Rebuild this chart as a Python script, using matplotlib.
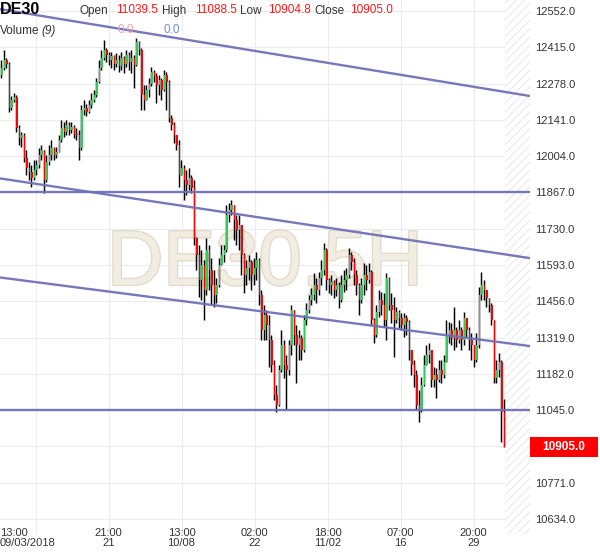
import matplotlib
matplotlib.use("Agg")
import matplotlib.pyplot as plt
import matplotlib.patheffects as pe
import matplotlib.transforms as mtrans
from matplotlib.patches import Rectangle
import numpy as np

plt.rcParams['font.family'] = ['Liberation Sans', 'DejaVu Sans']
plt.rcParams['hatch.linewidth'] = 0.6

# ---------------- data ----------------
symbol = "DE30"
watermark = "DE30,5H"
first_open = 12310

closes = [
    12337, 12367, 12352, 12186, 12216, 12227, 12110, 12073, 12084, 11997,
    11959, 11944, 11922, 11952, 11971, 12008, 12027, 11914, 11982, 12008,
    12035, 12008, 12020, 12065, 12110, 12095, 12122, 12103, 12114, 12088,
    12084, 12035, 12178, 12186, 12171, 12197, 12216, 12235, 12284, 12337,
    12375, 12405, 12386, 12367, 12382, 12352, 12367, 12344, 12375, 12352,
    12386, 12359, 12375, 12348, 12435, 12405, 12235, 12216, 12254, 12276,
    12322, 12307, 12273, 12292, 12254, 12310, 12284, 12148, 12122, 12084,
    12046, 11933, 11959, 11914, 11895, 11922, 11884, 11695, 11631, 11537,
    11593, 11499, 11650, 11574, 11518, 11480, 11518, 11593, 11631, 11650,
    11782, 11801, 11820, 11763, 11725, 11744, 11631, 11555, 11582, 11604,
    11555, 11582, 11612, 11480, 11348, 11404, 11367, 11310, 11216, 11102,
    11065, 11197, 11291, 11216, 11197, 11291, 11423, 11329, 11291, 11318,
    11272, 11386, 11423, 11461, 11480, 11518, 11499, 11544, 11574, 11650,
    11537, 11518, 11529, 11499, 11518, 11461, 11518, 11537, 11555, 11631,
    11604, 11555, 11518, 11461, 11518, 11555, 11537, 11567, 11386, 11329,
    11416, 11461, 11442, 11386, 11544, 11442, 11423, 11386, 11416, 11393,
    11367, 11393, 11378, 11272, 11216, 11178, 11065, 11046, 11140, 11216,
    11253, 11272, 11159, 11178, 11159, 11197, 11178, 11227, 11329, 11348,
    11318, 11348, 11310, 11348, 11310, 11393, 11348, 11310, 11291, 11235,
    11291, 11480, 11518, 11499, 11469, 11442, 11386, 11167, 11197, 11227,
    11039.5, 10905.0,
]
highs = [
    12367, 12405, 12375, 12359, 12231, 12242, 12235, 12122, 12095, 12090,
    12027, 11982, 11971, 11990, 11990, 12035, 12046, 12027, 12008, 12046,
    12065, 12040, 12039, 12084, 12141, 12133, 12141, 12133, 12133, 12122,
    12110, 12103, 12197, 12216, 12201, 12216, 12242, 12254, 12299, 12367,
    12405, 12442, 12412, 12397, 12397, 12386, 12393, 12386, 12397, 12382,
    12405, 12397, 12405, 12386, 12450, 12440, 12412, 12273, 12273, 12299,
    12341, 12329, 12318, 12310, 12299, 12329, 12322, 12292, 12159, 12133,
    12084, 12065, 11990, 11971, 11952, 11959, 11933, 11914, 11700, 11669,
    11650, 11612, 11695, 11669, 11620, 11574, 11544, 11620, 11669, 11669,
    11820, 11827, 11839, 11820, 11782, 11782, 11744, 11640, 11612, 11631,
    11612, 11620, 11642, 11620, 11499, 11442, 11423, 11404, 11329, 11235,
    11140, 11216, 11348, 11310, 11253, 11310, 11442, 11423, 11367, 11348,
    11329, 11404, 11450, 11480, 11506, 11563, 11544, 11567, 11612, 11676,
    11657, 11544, 11555, 11537, 11544, 11529, 11555, 11574, 11582, 11657,
    11642, 11620, 11574, 11525, 11544, 11601, 11593, 11601, 11574, 11393,
    11442, 11499, 11491, 11487, 11563, 11548, 11487, 11472, 11435, 11423,
    11412, 11412, 11404, 11386, 11272, 11235, 11197, 11121, 11170, 11253,
    11291, 11299, 11272, 11208, 11204, 11235, 11235, 11253, 11386, 11378,
    11374, 11435, 11359, 11386, 11359, 11416, 11393, 11359, 11336, 11291,
    11336, 11510, 11567, 11537, 11499, 11469, 11450, 11386, 11235, 11261,
    11235, 11088.5,
]
lows = [
    12299, 12329, 12337, 12171, 12178, 12208, 12095, 12046, 12039, 11982,
    11933, 11914, 11888, 11914, 11933, 11959, 11990, 11865, 11905, 11971,
    11990, 11990, 11997, 12020, 12057, 12076, 12084, 12084, 12091, 12073,
    12065, 11990, 12027, 12159, 12156, 12167, 12186, 12208, 12227, 12280,
    12330, 12367, 12359, 12348, 12337, 12329, 12341, 12322, 12329, 12318,
    12341, 12329, 12318, 12261, 12344, 12386, 12178, 12178, 12216, 12227,
    12270, 12284, 12205, 12235, 12216, 12250, 12178, 12133, 12103, 12054,
    12027, 11888, 11933, 11839, 11857, 11876, 11865, 11669, 11574, 11472,
    11461, 11386, 11480, 11499, 11442, 11435, 11450, 11510, 11593, 11604,
    11642, 11755, 11782, 11688, 11669, 11650, 11555, 11487, 11518, 11537,
    11499, 11518, 11537, 11442, 11310, 11310, 11310, 11208, 11189, 11084,
    11038, 11060, 11189, 11167, 11046, 11178, 11253, 11291, 11148, 11235,
    11235, 11265, 11367, 11412, 11442, 11461, 11450, 11480, 11518, 11555,
    11499, 11487, 11480, 11469, 11476, 11431, 11455, 11491, 11499, 11544,
    11574, 11518, 11480, 11404, 11450, 11480, 11499, 11525, 11367, 11299,
    11321, 11397, 11404, 11359, 11310, 11423, 11374, 11246, 11374, 11355,
    11348, 11321, 11329, 11235, 11178, 11133, 11046, 11000, 11040, 11135,
    11216, 11223, 11133, 11133, 11091, 11150, 11148, 11167, 11227, 11299,
    11291, 11272, 11284, 11299, 11272, 11291, 11321, 11272, 11235, 11208,
    11227, 11280, 11461, 11461, 11435, 11416, 11367, 11148, 11148, 11170,
    10925, 10904.8,
]

header_open, header_high, header_low, header_close = "11039.5", "11088.5", "10904.8", "10905.0"
volume_vals = ["0.0", "0.0"]

y_ticks = [12552, 12415, 12278, 12141, 12004, 11867, 11730, 11593, 11456,
           11319, 11182, 11045, 10908, 10771, 10634]
hidden_tick = 10908  # covered by the current-price box in the reference
x_tick_pos = [13.7, 42.9, 72.1, 101.3, 130.5, 159.7, 188.9]
x_tick_labels = ["13:00\n09/03/2018", "21:00\n21", "13:00\n10/08", "02:00\n22",
                 "18:00\n11/02", "07:00\n16", "20:00\n29"]

# trend lines: (price at left edge, price at right edge)
trend_lines = [(12559, 12231), (11870, 11870), (11920, 11619),
               (11546, 11287), (11046, 11046)]

# ---------------- figure ----------------
n = min(len(closes), len(highs), len(lows))
c = np.array(closes[:n], dtype=float)
h = np.array(highs[:n], dtype=float)
l = np.array(lows[:n], dtype=float)
o = np.concatenate([[first_open], c[:-1]])
h = np.maximum(h, np.maximum(o, c))
l = np.minimum(l, np.minimum(o, c))
x = np.arange(n)

fig = plt.figure(figsize=(6, 5.58), dpi=100)
ax = fig.add_axes([0, 24 / 558, 530 / 600, 534 / 558])
xmin, xmax = -0.5, 211.5
ax.set_xlim(xmin, xmax)
ax.set_ylim(10577.6, 12593.5)

for s in ax.spines.values():
    s.set_visible(False)

# grid / ticks
ax.set_yticks(y_ticks)
ax.set_yticklabels(["" if v == hidden_tick else f"{v:.1f}" for v in y_ticks])
ax.yaxis.tick_right()
ax.tick_params(axis='y', length=0, pad=4, labelsize=8, labelcolor='#333333')
ax.set_xticks(x_tick_pos)
ax.set_xticklabels([])
ax.tick_params(axis='x', length=0)
ax.grid(True, color='#ececec', linewidth=0.8, zorder=0)
ax.set_axisbelow(True)

# hatched future area
ax.axvspan(201.6, xmax, facecolor='white', edgecolor='#e4e4e4', hatch='////',
           linewidth=0, zorder=0.6)

# watermark
ax.text(0.5, 0.505, watermark, transform=ax.transAxes, ha='center', va='center',
        fontsize=56, color='#f2ede3', zorder=0.8,
        path_effects=[pe.withStroke(linewidth=1.8, foreground='#e2d9c6')])

# candles
ax.vlines(x, l, h, color='black', linewidth=1.05, zorder=3)
up = c >= o
colors = np.where(up, '#2ecc55', '#ff0000')
ax.bar(x + 0.3, np.abs(c - o), width=0.5, bottom=np.minimum(o, c),
       color=colors, linewidth=0, zorder=4)

# trend lines
for p0, p1 in trend_lines:
    ax.plot([xmin, xmax], [p0, p1], color='#7070b8', linewidth=1.7, alpha=0.95,
            zorder=5, solid_capstyle='butt')

# x tick labels
blend_x = mtrans.blended_transform_factory(ax.transData, fig.transFigure)
for i, (pos, lab) in enumerate(zip(x_tick_pos, x_tick_labels)):
    if i == 0:
        fig.text(0.0, 1 - 538 / 558, lab, ha='left', va='center', fontsize=8,
                 color='#333333', linespacing=1.0)
    else:
        ax.text(pos, 1 - 538 / 558, lab, transform=blend_x, ha='center',
                va='center', fontsize=8, color='#333333', linespacing=1.0,
                clip_on=False)

# current price box
blend_y = mtrans.blended_transform_factory(fig.transFigure, ax.transData)
box_h = 20 * 3.775
ax.add_patch(Rectangle((530 / 600, c[-1] - box_h / 2), 68 / 600, box_h,
                       transform=blend_y, facecolor='#ff0000', edgecolor='none',
                       clip_on=False, zorder=10))
ax.text(564 / 600, c[-1], f"{c[-1]:.1f}", transform=blend_y, ha='center',
        va='center', fontsize=8.5, fontweight='bold', color='white',
        clip_on=False, zorder=11)

# header
def ftxt(px, py, s, **kw):
    fig.text(px / 600, 1 - py / 558, s, va='center', ha='left', zorder=20, **kw)

ftxt(0, 10, symbol, fontsize=11.5, fontweight='bold', color='black')
lab_col = '#333333'
val_col = '#ff1a1a'
ftxt(80, 11, "Open", fontsize=8.5, color=lab_col)
ftxt(116, 10, header_open, fontsize=8.5, color=val_col)
ftxt(162, 11, "High", fontsize=8.5, color=lab_col)
ftxt(195, 10, header_high, fontsize=8.5, color=val_col)
ftxt(240, 11, "Low", fontsize=8.5, color=lab_col)
ftxt(268, 10, header_low, fontsize=8.5, color=val_col)
ftxt(314, 11, "Close", fontsize=8.5, color=lab_col)
ftxt(350, 10, header_close, fontsize=8.5, color=val_col)
ftxt(0, 31, "Volume", fontsize=8.5, color=lab_col)
ftxt(41, 31, "(9)", fontsize=8.5, color=lab_col, style='italic')
ftxt(117, 30, volume_vals[0], fontsize=8.5, color='#f4a0a0')
ftxt(163, 30, volume_vals[1], fontsize=8.5, color='#6f8fd0')

fig.savefig("out.png", dpi=100, facecolor='white')
